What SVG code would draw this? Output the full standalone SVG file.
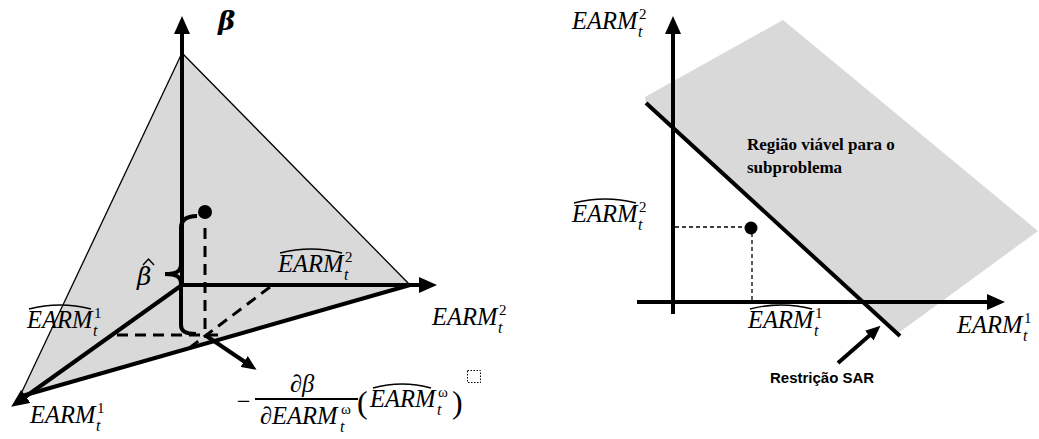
<svg xmlns="http://www.w3.org/2000/svg" width="1039" height="439" viewBox="0 0 1039 439">
<style>
.m{font-family:"Liberation Serif",serif;font-style:italic;font-size:24.5px;fill:#000}
.sb{font-family:"Liberation Serif",serif;font-style:italic;font-size:16px;fill:#000}
.sp{font-family:"Liberation Serif",serif;font-style:normal;font-size:15px;fill:#000}
.ps{font-family:"Liberation Serif",serif;font-size:32px;fill:#000}
.hat{fill:none;stroke:#000;stroke-width:1.3}
.ax{stroke:#000;stroke-width:4;fill:none}
.thin{stroke:#000;stroke-width:1.3;fill:none}
.dash{stroke:#000;stroke-width:3;stroke-dasharray:11 7;fill:none}
.dash2{stroke:#000;stroke-width:1.3;stroke-dasharray:4 3;fill:none}
.reg{fill:#d9d9d9;stroke:none}
.bt{font-family:"Liberation Serif",serif;font-weight:bold;font-size:17px;fill:#000}
.st{font-family:"Liberation Sans",sans-serif;font-weight:bold;font-size:15px;fill:#000}
</style>
<defs>
<marker id="ah" markerUnits="userSpaceOnUse" markerWidth="18" markerHeight="16" viewBox="0 0 18 16" refX="1" refY="8" orient="auto">
<path d="M0,0 L18,8 L0,16 z" fill="#000"/>
</marker>
<marker id="ahs" markerUnits="userSpaceOnUse" markerWidth="15" markerHeight="13" viewBox="0 0 15 13" refX="1" refY="6.5" orient="auto">
<path d="M0,0 L15,6.5 L0,13 z" fill="#000"/>
</marker>
</defs>

<!-- LEFT DIAGRAM -->
<g id="plane3d">
<polygon class="reg" points="182,53 410,285 20,396"/>
<line class="thin" x1="182" y1="53" x2="410" y2="285"/>
<line class="thin" x1="182" y1="53" x2="19" y2="398"/>
</g>

<g id="connectors-left">
<line class="ax" x1="182" y1="287" x2="182" y2="33" marker-end="url(#ah)"/>
<line class="ax" x1="180" y1="285" x2="420" y2="285" marker-end="url(#ah)"/>
<line class="ax" x1="182" y1="285" x2="25" y2="397" marker-end="url(#ah)"/>
<line class="ax" x1="410" y1="285" x2="22" y2="396"/>
<line class="dash" x1="205" y1="228" x2="205" y2="336"/>
<line class="dash" x1="117" y1="335" x2="221" y2="335"/>
<line class="dash" x1="270" y1="287" x2="188" y2="349"/>
<line class="ax" x1="205" y1="335" x2="245" y2="362" stroke-width="3.5" marker-end="url(#ahs)"/>
<path class="ax" d="M197,216 C186,216 181,220 181,228 L181,264 C181,271 177,274 165,274 C177,274 181,277 181,284 L181,325 C181,331 185,334 196,334"/>
</g>

<g id="point3d"><circle cx="205" cy="212" r="7" fill="#000"/></g>

<g id="label-beta"><text x="218" y="30" style="font-family:'DejaVu Serif',serif;font-style:italic;font-weight:bold;font-size:26px">β</text></g>
<g id="label-betahat">
<path d="M143,265 L148.5,259 L154,265" fill="none" stroke="#000" stroke-width="1.5"/>
<text x="137" y="285" style="font-family:'DejaVu Serif',serif;font-style:italic;font-size:25px">β</text>
</g>

<g id="label-earmhat2-left">
<path class="hat" d="M280,253 Q311,245 342,253"/>
<text class="m" x="278" y="272">EARM</text><text class="sb" x="344" y="279.5">t</text><text class="sp" x="345" y="262">2</text>
</g>
<g id="label-earmhat1-left">
<path class="hat" d="M29,309 Q60,301 91,309"/>
<text class="m" x="27" y="328">EARM</text><text class="sb" x="93" y="335.5">t</text><text class="sp" x="94" y="318">1</text>
</g>
<g id="label-earm1-left">
<text class="m" x="30" y="423">EARM</text><text class="sb" x="96" y="430.5">t</text><text class="sp" x="97" y="413">1</text>
</g>
<g id="label-earm2-left">
<text class="m" x="432" y="325">EARM</text><text class="sb" x="498" y="332.5">t</text><text class="sp" x="499" y="315">2</text>
</g>

<g id="label-formula">
<text x="236" y="407" style="font-family:'DejaVu Serif',serif;font-size:18px">−</text>
<line x1="255" y1="399" x2="358" y2="399" stroke="#000" stroke-width="2"/>
<text class="m" x="290" y="392">∂β</text>
<text class="m" x="260" y="424">∂EARM</text><text class="sb" x="340" y="431.5">t</text><text class="sp" x="341" y="414">ω</text>
<text class="ps" x="357" y="413">(</text>
<path class="hat" d="M373,388 Q402,380 431,388"/>
<text class="m" x="370" y="407">EARM</text><text class="sb" x="437" y="414.5">t</text><text class="sp" x="438" y="397">ω</text>
<text class="ps" x="452" y="413">)</text>
<rect x="467.5" y="370.5" width="13" height="12" fill="none" stroke="#000" stroke-width="1" stroke-dasharray="1.5 1.5"/>
</g>

<!-- RIGHT DIAGRAM -->
<g id="feasible-region">
<polygon class="reg" points="645,97 783,20 1038,231 897,334 646,103"/>
</g>

<g id="connectors-right">
<line class="ax" x1="673" y1="314" x2="673" y2="33" stroke-width="5" marker-end="url(#ah)"/>
<line class="ax" x1="637" y1="302" x2="988" y2="302" marker-end="url(#ah)"/>
<line class="ax" x1="646" y1="103" x2="900" y2="336"/>
<line class="dash2" x1="675" y1="227" x2="746" y2="227"/>
<line class="dash2" x1="752" y1="233" x2="752" y2="300"/>
<line class="ax" x1="838" y1="363" x2="870" y2="335" stroke-width="3" marker-end="url(#ahs)"/>
</g>

<g id="point2d"><circle cx="751" cy="228" r="6.5" fill="#000"/></g>

<g id="label-earm2-right">
<text class="m" x="572" y="29">EARM</text><text class="sb" x="638" y="36.5">t</text><text class="sp" x="639" y="19">2</text>
</g>
<g id="label-earmhat2-right">
<path class="hat" d="M574,203 Q605,195 636,203"/>
<text class="m" x="572" y="222">EARM</text><text class="sb" x="638" y="229.5">t</text><text class="sp" x="639" y="212">2</text>
</g>
<g id="label-earmhat1-right">
<path class="hat" d="M750,309 Q781,301 812,309"/>
<text class="m" x="748" y="328">EARM</text><text class="sb" x="814" y="335.5">t</text><text class="sp" x="815" y="318">1</text>
</g>
<g id="label-earm1-right">
<text class="m" x="957" y="333">EARM</text><text class="sb" x="1023" y="340.5">t</text><text class="sp" x="1024" y="323">1</text>
</g>

<g id="label-region">
<text class="bt" x="747" y="150">Região viável para o</text>
<text class="bt" x="747" y="173">subproblema</text>
</g>
<g id="label-sar"><text class="st" x="770" y="383">Restrição SAR</text></g>
</svg>
